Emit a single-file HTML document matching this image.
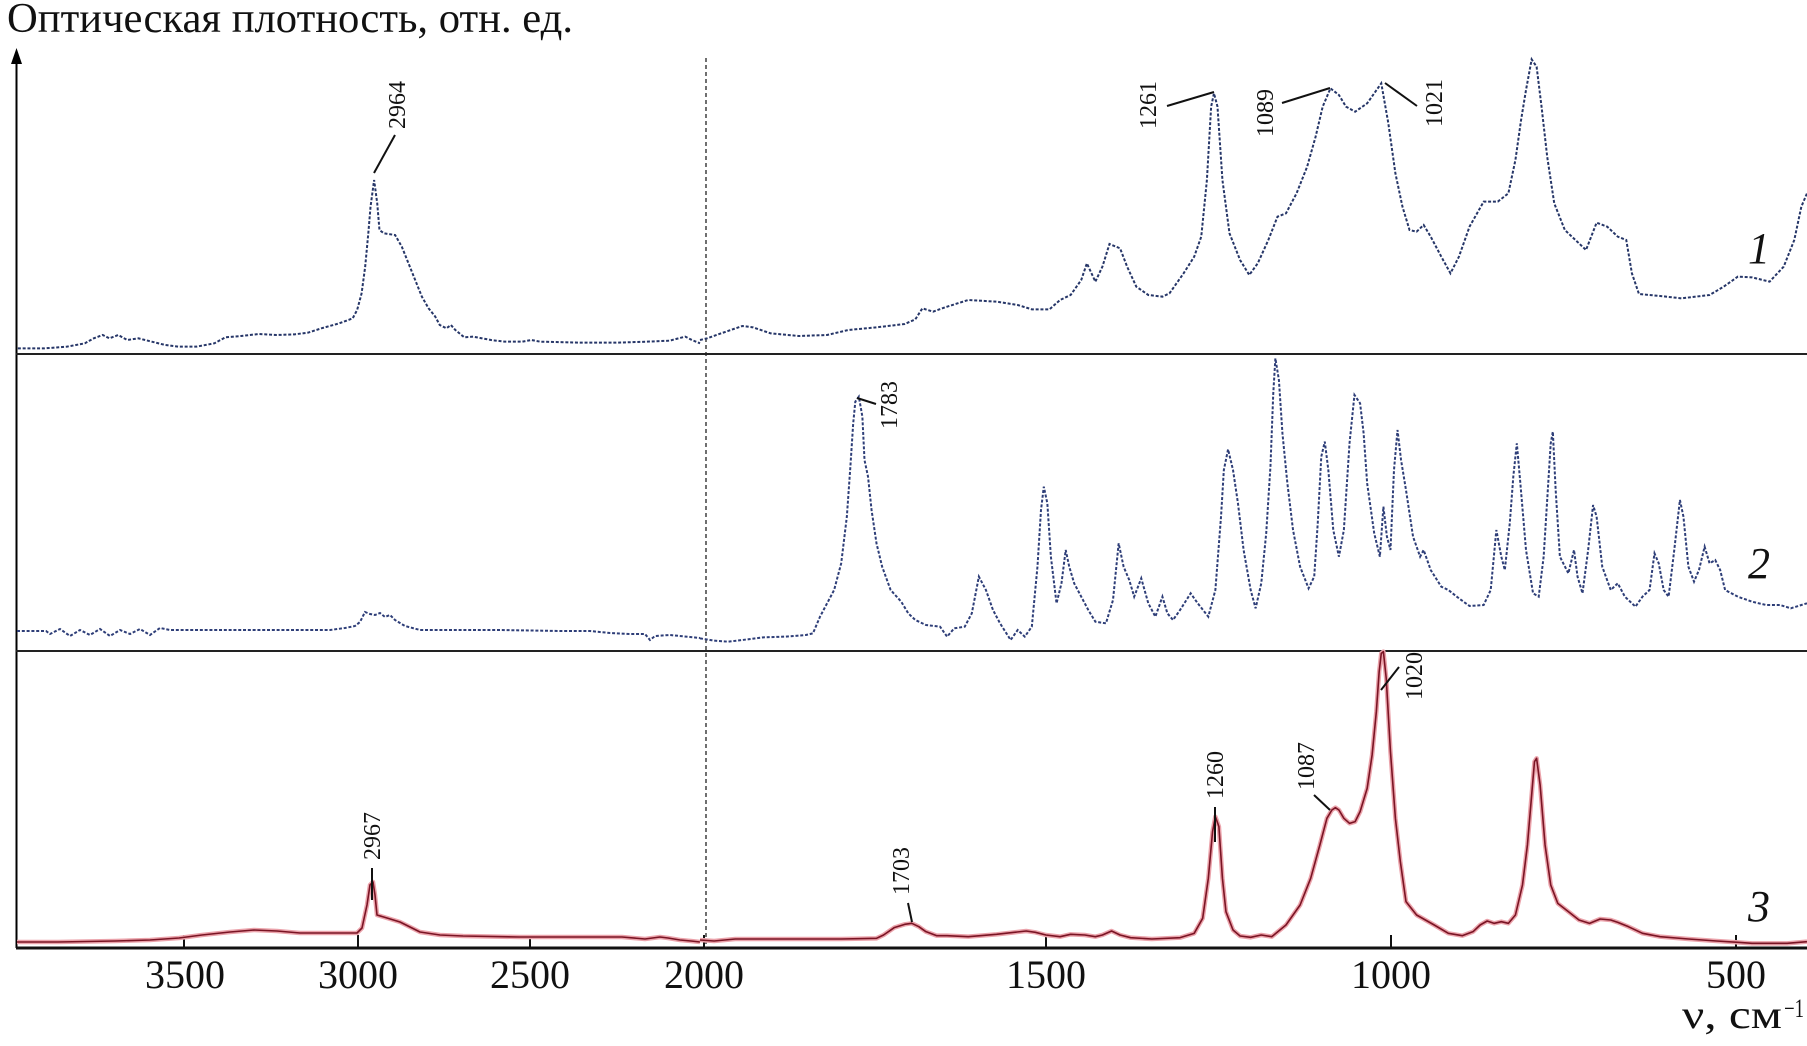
<!DOCTYPE html>
<html><head><meta charset="utf-8"><style>
html,body{margin:0;padding:0;background:#fff;}
svg{display:block;}
text{font-family:"Liberation Serif","Noto Serif CJK SC",serif;fill:#111;}
</style></head><body>
<svg width="1807" height="1046" viewBox="0 0 1807 1046" xmlns="http://www.w3.org/2000/svg">
<rect width="1807" height="1046" fill="#fff"/>
<!-- title -->
<text x="7" y="32" font-size="42" textLength="566" lengthAdjust="spacingAndGlyphs">Оптическая плотность, отн. ед.</text>
<!-- y axis -->
<line x1="16.5" y1="60" x2="16.5" y2="948" stroke="#000" stroke-width="2"/>
<polygon points="16.5,48 11,64 22,64" fill="#000"/>
<!-- separators -->
<line x1="16" y1="354" x2="1807" y2="354" stroke="#222" stroke-width="2"/>
<line x1="16" y1="651" x2="1807" y2="651" stroke="#222" stroke-width="2"/>
<line x1="16" y1="948" x2="1807" y2="948" stroke="#111" stroke-width="3"/>
<!-- dotted vertical -->
<line x1="706" y1="58" x2="706" y2="948" stroke="#222" stroke-width="1.3" stroke-dasharray="4,3"/>
<!-- ticks -->
<g stroke="#111" stroke-width="2">
<line x1="184" y1="935" x2="184" y2="948"/>
<line x1="358" y1="935" x2="358" y2="948"/>
<line x1="530" y1="935" x2="530" y2="948"/>
<line x1="704" y1="935" x2="704" y2="948"/>
<line x1="1046" y1="935" x2="1046" y2="948"/>
<line x1="1391" y1="935" x2="1391" y2="948"/>
<line x1="1736" y1="935" x2="1736" y2="948"/>
</g>
<g font-size="40" text-anchor="middle">
<text x="185" y="988">3500</text>
<text x="358" y="988">3000</text>
<text x="530" y="988">2500</text>
<text x="704" y="988">2000</text>
<text x="1046" y="988">1500</text>
<text x="1391" y="988">1000</text>
<text x="1736" y="988">500</text>
</g>
<text x="1682" y="1028" font-size="40" textLength="100" lengthAdjust="spacingAndGlyphs">ν, см</text>
<text x="1784" y="1017" font-size="26" textLength="20" lengthAdjust="spacingAndGlyphs">−1</text>

<!-- curve labels -->
<g font-size="44" font-style="italic">
<text x="1748" y="263">1</text>
<text x="1748" y="578">2</text>
<text x="1748" y="921">3</text>
</g>

<!-- Curve 1 -->
<g fill="none" stroke="#263668" stroke-width="2" stroke-dasharray="3,1.8">
<g transform="translate(0,0) scale(0.44643,0.33333)">
<polyline vector-effect="non-scaling-stroke" points="40,1045 100,1045 150,1040 190,1030 210,1015 230,1005 245,1015 265,1005 285,1020 310,1015 340,1025 370,1035 400,1040 440,1040 480,1030 505,1012 540,1008 580,1002 620,1005 660,1003 690,998 720,985 760,970 790,955 800,930 810,880 818,800 825,700 830,620 838,540 845,610 850,690 860,700 885,705 900,740 915,790 930,840 945,890 960,925 975,950 985,975 1000,985 1010,975 1020,990 1040,1012 1060,1010 1080,1015 1100,1020 1130,1025 1170,1025 1190,1020 1210,1025 1300,1028 1380,1028 1450,1025 1500,1022 1520,1015 1535,1010 1550,1020 1568,1030"/>
</g>
<g transform="translate(700,40) scale(0.70599,0.33333)">
<polyline vector-effect="non-scaling-stroke" points="0,900 10,895 30,880 60,858 75,862 100,880 140,888 180,885 210,870 250,862 290,852 305,838 315,805 330,815 350,800 380,780 420,785 450,795 470,808 495,808 510,780 525,765 540,720 548,670 560,725 570,680 580,612 595,625 605,680 618,740 635,765 655,770 665,760 685,700 700,650 710,590 718,420 724,200 728,160 733,200 740,420 750,580 765,660 778,705 790,670 805,600 818,530 830,520 845,460 860,380 872,290 882,200 893,145 905,165 915,200 928,215 945,190 965,130 975,250 985,400 995,500 1005,570 1015,575 1025,555 1035,590 1050,650 1063,700 1075,650 1090,560 1110,485 1130,485 1145,460 1155,360 1163,240 1170,150 1178,58 1185,80 1192,200 1200,350 1210,490 1225,570 1240,600 1255,630 1270,548 1285,560 1300,590 1312,600 1320,700 1330,762 1360,768 1390,775 1430,765 1450,740 1470,710 1490,712 1515,725 1535,680 1550,600 1560,500 1568,460"/>
</g>
</g>

<!-- Curve 2 -->
<g fill="none" stroke="#2e3e78" stroke-width="2" stroke-dasharray="3,1.8">
<polyline points="17,631 46,631 50,634 60,629 70,636 80,630 90,635 100,629 110,636 120,630 130,634 140,629 150,635 160,628 170,630 200,630 250,630 300,630 330,630 345,628 355,626 360,622 365,612 370,614 375,615 380,613 385,617 390,615 395,620 405,626 420,630 500,630 560,631 590,631 610,633 630,634 645,634 650,640 655,636 670,635 690,637 700,638"/>
<g transform="translate(700,350) scale(0.70599,0.33333)">
<polyline vector-effect="non-scaling-stroke" points="0,865 20,872 40,875 60,870 90,862 120,860 150,855 160,850 170,800 180,760 190,720 200,640 208,500 213,350 217,220 220,155 225,140 230,200 233,330 238,380 243,480 250,580 258,650 270,720 285,755 295,790 305,810 320,825 340,830 350,860 360,835 375,830 385,790 395,680 405,720 415,780 425,820 440,870 450,840 460,860 470,830 478,650 483,480 487,410 492,460 497,620 505,760 512,700 518,600 523,650 530,700 540,740 550,780 560,815 575,820 585,750 593,580 600,650 608,690 615,740 625,685 635,760 645,800 655,740 662,790 670,810 680,780 695,730 705,760 720,800 730,720 738,500 742,360 748,298 755,360 762,460 770,600 780,720 787,775 795,700 802,550 808,350 812,130 815,25 820,90 825,250 832,400 840,540 850,650 862,715 870,680 875,520 880,320 885,275 890,360 897,540 905,620 912,540 920,280 927,135 935,160 940,250 945,400 955,550 963,620 968,470 973,560 978,600 983,360 988,240 993,330 1000,420 1010,560 1020,620 1025,600 1035,660 1050,710 1060,720 1075,745 1090,768 1110,765 1120,720 1128,540 1135,620 1140,660 1147,520 1152,380 1157,280 1162,400 1170,600 1180,730 1188,740 1195,620 1200,450 1205,280 1208,245 1212,420 1218,620 1230,670 1238,600 1243,680 1250,730 1258,600 1265,465 1270,500 1278,650 1290,720 1300,700 1310,740 1325,770 1335,740 1345,720 1352,610 1358,640 1365,720 1372,740 1380,600 1388,450 1393,500 1400,650 1408,695 1415,660 1423,590 1430,640 1438,630 1445,660 1452,720 1470,740 1490,755 1510,765 1530,765 1545,775 1560,765 1568,760"/>
</g>
</g>

<!-- Curve 3 -->
<g fill="none" stroke-linejoin="round">
<polyline stroke="#eba3ab" stroke-width="4.5" points="17,942 58,942 115,941 150,940 179,938 202,935 230,932 254,930 277,931 300,933 323,933 357,933 362,928 367,905 370,885 373,882 375,895 377,915 387,918 400,922 410,927 420,932 440,935 463,936 519,937 576,937 622,937 645,939 660,937 668,938 680,940 691,941 700,942"/>
<polyline stroke="#7a1424" stroke-width="1.6" points="17,942 58,942 115,941 150,940 179,938 202,935 230,932 254,930 277,931 300,933 323,933 357,933 362,928 367,905 370,885 373,882 375,895 377,915 387,918 400,922 410,927 420,932 440,935 463,936 519,937 576,937 622,937 645,939 660,937 668,938 680,940 691,941 700,942"/>
<g transform="translate(700,645) scale(0.70599,0.33333)">
<polyline vector-effect="non-scaling-stroke" stroke="#eba3ab" stroke-width="4.5" points="0,885 20,888 50,882 100,882 150,882 200,882 250,880 260,870 275,848 290,838 300,835 310,845 320,860 335,872 350,872 380,875 420,868 445,862 462,858 475,862 490,870 510,875 525,868 545,870 560,875 570,870 583,858 595,870 610,878 640,882 680,878 700,865 712,820 720,700 726,560 730,515 735,545 740,700 745,800 755,855 765,873 780,877 795,870 810,875 830,840 850,780 865,700 878,600 888,520 895,495 900,488 905,495 912,520 920,535 928,530 935,500 945,430 952,330 958,200 962,80 965,25 968,20 972,100 978,320 985,520 992,650 1000,770 1015,810 1040,840 1060,865 1080,872 1095,860 1105,840 1115,828 1125,835 1135,830 1145,835 1155,810 1165,720 1172,600 1178,450 1182,350 1185,340 1190,420 1197,600 1205,720 1215,775 1230,800 1245,825 1260,835 1275,822 1290,825 1300,832 1315,845 1335,865 1360,875 1400,882 1440,888 1470,892 1490,895 1540,895 1568,890"/>
<polyline vector-effect="non-scaling-stroke" stroke="#7a1424" stroke-width="1.6" points="0,885 20,888 50,882 100,882 150,882 200,882 250,880 260,870 275,848 290,838 300,835 310,845 320,860 335,872 350,872 380,875 420,868 445,862 462,858 475,862 490,870 510,875 525,868 545,870 560,875 570,870 583,858 595,870 610,878 640,882 680,878 700,865 712,820 720,700 726,560 730,515 735,545 740,700 745,800 755,855 765,873 780,877 795,870 810,875 830,840 850,780 865,700 878,600 888,520 895,495 900,488 905,495 912,520 920,535 928,530 935,500 945,430 952,330 958,200 962,80 965,25 968,20 972,100 978,320 985,520 992,650 1000,770 1015,810 1040,840 1060,865 1080,872 1095,860 1105,840 1115,828 1125,835 1135,830 1145,835 1155,810 1165,720 1172,600 1178,450 1182,350 1185,340 1190,420 1197,600 1205,720 1215,775 1230,800 1245,825 1260,835 1275,822 1290,825 1300,832 1315,845 1335,865 1360,875 1400,882 1440,888 1470,892 1490,895 1540,895 1568,890"/>
</g>
</g>

<!-- peak label lines -->
<g stroke="#111" stroke-width="2">
<line x1="374" y1="173" x2="395" y2="135"/>
<line x1="1167" y1="106" x2="1214" y2="92"/>
<line x1="1282" y1="103" x2="1330" y2="88"/>
<line x1="1385" y1="83" x2="1417" y2="106"/>
<line x1="857" y1="398" x2="876" y2="404"/>
<line x1="908" y1="903" x2="912" y2="922"/>
<line x1="1215" y1="807" x2="1215" y2="842"/>
<line x1="1314" y1="795" x2="1330" y2="810"/>
<line x1="1399" y1="667" x2="1381" y2="690"/>
<line x1="372" y1="868" x2="372" y2="900"/>
</g>
<!-- peak labels (rotated) -->
<g font-size="24">
<text transform="translate(405,129) rotate(-90)">2964</text>
<text transform="translate(1156,129) rotate(-90)">1261</text>
<text transform="translate(1273,137) rotate(-90)">1089</text>
<text transform="translate(1442,127) rotate(-90)">1021</text>
<text transform="translate(897,429) rotate(-90)">1783</text>
<text transform="translate(909,895) rotate(-90)">1703</text>
<text transform="translate(1223,799) rotate(-90)">1260</text>
<text transform="translate(1314,790) rotate(-90)">1087</text>
<text transform="translate(1422,700) rotate(-90)">1020</text>
<text transform="translate(380,860) rotate(-90)">2967</text>
</g>
</svg>
</body></html>
